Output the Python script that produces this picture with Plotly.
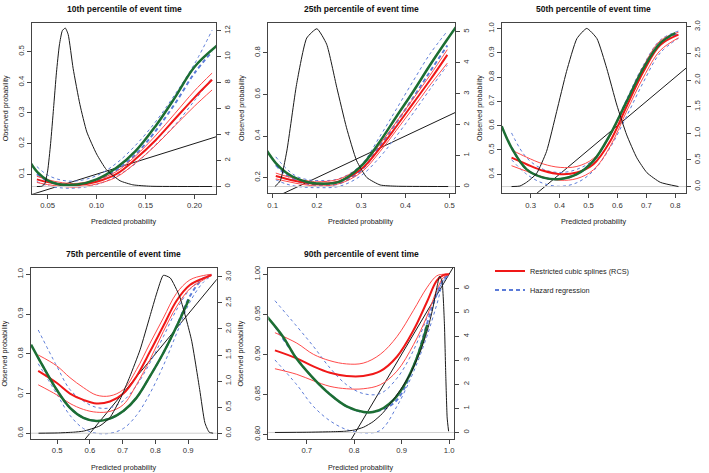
import plotly.graph_objects as go

W, H = 709, 473
FONT = "Liberation Sans, Arial, Helvetica, sans-serif"

# ---------------- data ----------------
TITLES = ["10th percentile of event time", "25th percentile of event time",
          "50th percentile of event time", "75th percentile of event time",
          "90th percentile of event time"]
X_LABEL = "Predicted probability"
Y_LABEL = "Observed probability"
LEGEND_RCS = "Restricted cubic splines (RCS)"
LEGEND_HR = "Hazard regression"

IDENTITY = [0.0, 1.2]          # y = x reference line
BASE_X = [0.0, 1.2]            # density baseline (density = 0)
BASE_Y = [0.0, 0.0]

# 10th percentile
P10_X = [0.039, 0.05, 0.065, 0.08, 0.10, 0.12, 0.14, 0.16, 0.18, 0.20, 0.218]
P10_RCS = [0.083, 0.074, 0.066, 0.064, 0.075, 0.10, 0.15, 0.21, 0.28, 0.35, 0.408]
P10_RCS_HI = [0.093, 0.082, 0.072, 0.070, 0.082, 0.108, 0.16, 0.225, 0.298, 0.372, 0.43]
P10_RCS_LO = [0.073, 0.066, 0.060, 0.058, 0.068, 0.09, 0.137, 0.193, 0.258, 0.322, 0.375]
P10_HR = [0.10, 0.078, 0.066, 0.065, 0.08, 0.113, 0.165, 0.24, 0.33, 0.43, 0.50]
P10_HR_HI = [0.125, 0.097, 0.08, 0.078, 0.095, 0.135, 0.195, 0.27, 0.36, 0.46, 0.57]
P10_HR_LO = [0.076, 0.062, 0.055, 0.055, 0.066, 0.093, 0.135, 0.195, 0.26, 0.34, 0.415]
P10_GREEN_X = [0.030, 0.04, 0.05, 0.06, 0.08, 0.10, 0.12, 0.14, 0.16, 0.18, 0.20, 0.225]
P10_GREEN = [0.15, 0.105, 0.08, 0.068, 0.066, 0.083, 0.12, 0.176, 0.256, 0.35, 0.45, 0.525]
P10_DENS_X = [0.039, 0.044, 0.047, 0.050, 0.053, 0.056, 0.059, 0.062, 0.065, 0.068, 0.071,
              0.076, 0.083, 0.090, 0.100, 0.110, 0.124, 0.137, 0.155, 0.218]
P10_DENS = [0.0, 0.02, 0.2, 1.2, 3.3, 6.0, 8.8, 10.9, 12.0, 12.2, 11.7,
            9.1, 6.3, 4.2, 2.5, 1.3, 0.44, 0.13, 0.02, 0.0]

# 25th percentile
P25_X = [0.107, 0.13, 0.155, 0.18, 0.2, 0.25, 0.3, 0.343, 0.38, 0.418, 0.456, 0.495]
P25_RCS = [0.208, 0.195, 0.183, 0.174, 0.17, 0.182, 0.24, 0.343, 0.447, 0.558, 0.669, 0.79]
P25_RCS_HI = [0.222, 0.207, 0.194, 0.184, 0.18, 0.193, 0.255, 0.362, 0.468, 0.58, 0.692, 0.815]
P25_RCS_LO = [0.194, 0.183, 0.172, 0.164, 0.16, 0.171, 0.225, 0.326, 0.428, 0.535, 0.645, 0.75]
P25_HR = [0.26, 0.215, 0.185, 0.17, 0.165, 0.172, 0.235, 0.355, 0.465, 0.585, 0.71, 0.835]
P25_HR_HI = [0.30, 0.245, 0.205, 0.19, 0.186, 0.195, 0.262, 0.40, 0.53, 0.665, 0.795, 0.904]
P25_HR_LO = [0.19, 0.17, 0.158, 0.153, 0.152, 0.158, 0.21, 0.30, 0.40, 0.51, 0.625, 0.74]
P25_GREEN_X = [0.085, 0.107, 0.13, 0.155, 0.18, 0.2, 0.25, 0.3, 0.343, 0.38, 0.418, 0.456, 0.494, 0.52]
P25_GREEN = [0.335, 0.27, 0.225, 0.195, 0.178, 0.172, 0.18, 0.255, 0.375, 0.494, 0.614, 0.741, 0.861, 0.94]
P25_DENS_X = [0.105, 0.117, 0.132, 0.154, 0.177, 0.2, 0.222, 0.245, 0.267, 0.29, 0.313, 0.343, 0.38, 0.497]
P25_DENS = [0.0, 0.18, 1.15, 3.3, 4.8, 5.1, 4.6, 3.2, 1.9, 0.83, 0.29, 0.05, 0.01, 0.0]

# 50th percentile
P50_X = [0.234, 0.286, 0.344, 0.402, 0.46, 0.517, 0.575, 0.632, 0.69, 0.748, 0.811]
P50_RCS = [0.468, 0.441, 0.414, 0.40, 0.407, 0.441, 0.536, 0.68, 0.823, 0.932, 0.975]
P50_RCS_HI = [0.50, 0.47, 0.442, 0.428, 0.432, 0.465, 0.557, 0.70, 0.845, 0.95, 0.985]
P50_RCS_LO = [0.435, 0.412, 0.388, 0.375, 0.382, 0.418, 0.515, 0.66, 0.80, 0.91, 0.962]
P50_HR = [0.51, 0.42, 0.386, 0.38, 0.40, 0.455, 0.564, 0.70, 0.837, 0.94, 0.98]
P50_HR_HI = [0.57, 0.468, 0.42, 0.407, 0.42, 0.46, 0.56, 0.71, 0.85, 0.953, 0.99]
P50_HR_LO = [0.46, 0.40, 0.362, 0.35, 0.365, 0.414, 0.51, 0.64, 0.78, 0.90, 0.96]
P50_GREEN_X = [0.2, 0.234, 0.286, 0.344, 0.402, 0.46, 0.517, 0.575, 0.632, 0.69, 0.748, 0.80]
P50_GREEN = [0.598, 0.509, 0.42, 0.386, 0.38, 0.40, 0.455, 0.564, 0.70, 0.837, 0.94, 0.982]
P50_DENS_X = [0.234, 0.263, 0.286, 0.32, 0.355, 0.39, 0.424, 0.46, 0.494, 0.529, 0.563,
              0.598, 0.632, 0.667, 0.702, 0.748, 0.811]
P50_DENS = [0.0, 0.01, 0.08, 0.24, 0.66, 1.41, 2.16, 2.78, 2.97, 2.78, 2.22,
            1.53, 0.97, 0.54, 0.26, 0.08, 0.0]

# 75th percentile
P75_X = [0.442, 0.498, 0.539, 0.58, 0.62, 0.661, 0.702, 0.742, 0.783, 0.824, 0.864, 0.905, 0.946, 0.971]
P75_RCS = [0.757, 0.727, 0.70, 0.684, 0.675, 0.68, 0.70, 0.743, 0.805, 0.87, 0.933, 0.973, 0.99, 0.998]
P75_RCS_HI = [0.797, 0.77, 0.74, 0.715, 0.696, 0.694, 0.71, 0.76, 0.826, 0.89, 0.952, 0.986, 0.997, 1.0]
P75_RCS_LO = [0.722, 0.697, 0.675, 0.66, 0.653, 0.655, 0.672, 0.722, 0.785, 0.856, 0.918, 0.964, 0.986, 0.997]
P75_HR = [0.79, 0.71, 0.664, 0.639, 0.631, 0.637, 0.656, 0.689, 0.743, 0.802, 0.868, 0.945, 0.99, 0.999]
P75_HR_HI = [0.86, 0.77, 0.71, 0.681, 0.665, 0.664, 0.682, 0.72, 0.777, 0.843, 0.91, 0.962, 0.99, 0.998]
P75_HR_LO = [0.775, 0.70, 0.645, 0.612, 0.60, 0.60, 0.612, 0.645, 0.70, 0.77, 0.85, 0.93, 0.98, 0.996]
P75_GREEN_X = [0.42, 0.442, 0.498, 0.539, 0.58, 0.62, 0.661, 0.702, 0.742, 0.783, 0.824, 0.864, 0.902]
P75_GREEN = [0.823, 0.79, 0.71, 0.664, 0.639, 0.631, 0.637, 0.656, 0.689, 0.743, 0.802, 0.868, 0.937]
P75_DENS_X = [0.443, 0.50, 0.55, 0.58, 0.63, 0.661, 0.692, 0.722, 0.753, 0.783, 0.804, 0.824,
              0.845, 0.874, 0.91, 0.935, 0.951, 0.964, 0.976]
P75_DENS = [0.0, 0.005, 0.02, 0.04, 0.14, 0.3, 0.65, 1.09, 1.6, 2.24, 2.69, 3.03,
            2.98, 2.62, 1.79, 0.84, 0.2, 0.02, 0.0]

# 90th percentile
P90_X = [0.633, 0.679, 0.714, 0.749, 0.784, 0.819, 0.855, 0.89, 0.925, 0.953, 0.974, 0.988, 1.0]
P90_RCS = [0.905, 0.895, 0.885, 0.877, 0.873, 0.873, 0.879, 0.897, 0.93, 0.965, 0.992, 0.999, 1.0]
P90_RCS_HI = [0.927, 0.914, 0.90, 0.892, 0.888, 0.889, 0.90, 0.922, 0.955, 0.983, 0.998, 1.0, 1.0]
P90_RCS_LO = [0.882, 0.875, 0.867, 0.86, 0.857, 0.857, 0.862, 0.879, 0.912, 0.947, 0.98, 0.996, 1.0]
P90_HR = [0.935, 0.895, 0.87, 0.85, 0.835, 0.828, 0.83, 0.843, 0.885, 0.937, 0.975, 0.993, 1.0]
P90_HR_HI = [0.967, 0.935, 0.91, 0.883, 0.862, 0.851, 0.851, 0.87, 0.905, 0.945, 0.975, 0.993, 1.0]
P90_HR_LO = [0.893, 0.862, 0.835, 0.817, 0.806, 0.802, 0.805, 0.835, 0.878, 0.922, 0.962, 0.99, 1.0]
P90_GREEN_X = [0.615, 0.65, 0.678, 0.714, 0.749, 0.784, 0.82, 0.84, 0.862, 0.883, 0.904, 0.925, 0.943, 0.954]
P90_GREEN = [0.948, 0.922, 0.895, 0.87, 0.85, 0.835, 0.828, 0.828, 0.833, 0.843, 0.86, 0.885, 0.914, 0.937]
P90_DENS_X = [0.633, 0.70, 0.75, 0.78, 0.80, 0.82, 0.84, 0.86, 0.88, 0.90, 0.92, 0.94, 0.955,
              0.965, 0.975, 0.98, 0.985, 0.99, 0.993, 0.996, 0.999]
P90_DENS = [0.0, 0.01, 0.03, 0.05, 0.1, 0.22, 0.45, 0.8, 1.3, 1.85, 2.5, 3.4, 4.3,
            5.1, 6.1, 6.5, 6.3, 4.6, 2.4, 0.6, 0.05]

# axis ticks
X_TICKS = [[0.05, 0.10, 0.15, 0.20], [0.1, 0.2, 0.3, 0.4, 0.5],
           [0.3, 0.4, 0.5, 0.6, 0.7, 0.8], [0.5, 0.6, 0.7, 0.8, 0.9], [0.7, 0.8, 0.9, 1.0]]
YL_TICKS = [[0.1, 0.2, 0.3, 0.4, 0.5], [0.2, 0.4, 0.6, 0.8],
            [0.4, 0.5, 0.6, 0.7, 0.8, 0.9, 1.0], [0.6, 0.7, 0.8, 0.9, 1.0],
            [0.80, 0.85, 0.90, 0.95, 1.00]]
YR_TICKS = [[0, 2, 4, 6, 8, 10, 12], [0, 1, 2, 3, 4, 5],
            [0.0, 0.5, 1.0, 1.5, 2.0, 2.5, 3.0], [0.0, 0.5, 1.0, 1.5, 2.0, 2.5, 3.0],
            [0, 1, 2, 3, 4, 5, 6]]

# ---------------- layout / styling ----------------
# plot boxes in pixels: left, right, top, bottom
BOXES = [(32, 216, 21, 193), (267.7, 455, 20.7, 192.7), (501.7, 686, 20.7, 192.7),
         (31, 216.7, 267.7, 440), (268.3, 454.3, 267.7, 440)]
X_RANGES = [(0.034, 0.222), (0.0887, 0.5124), (0.20, 0.837), (0.42, 0.987), (0.619, 1.011)]
YL_RANGES = [(0.036, 0.594), (0.124, 0.945), (0.3205, 1.025), (0.585, 1.016), (0.794, 1.0078)]
YR_RANGES = [(-0.56, 12.6), (-0.225, 5.3), (-0.13, 3.08), (-0.115, 3.17), (-0.28, 6.84)]
X_FMT = [".2f", ".1f", ".1f", ".1f", ".1f"]
YL_FMT = [".1f", ".1f", ".1f", ".1f", ".2f"]
YR_FMT = ["d", "d", ".1f", ".1f", "d"]
YTITLE_X = [5, 241, 479, 5, 241]

RED = "#f01818"
RED_THIN = "#ff4a4a"
BLUE = "#5b7bd8"
GREEN = "#1c6e33"
BLACK = "#1a1a1a"
AXIS = "#444444"

PANELS = [
    (P10_X, P10_RCS, P10_RCS_HI, P10_RCS_LO, P10_HR, P10_HR_HI, P10_HR_LO, P10_GREEN_X, P10_GREEN, P10_DENS_X, P10_DENS),
    (P25_X, P25_RCS, P25_RCS_HI, P25_RCS_LO, P25_HR, P25_HR_HI, P25_HR_LO, P25_GREEN_X, P25_GREEN, P25_DENS_X, P25_DENS),
    (P50_X, P50_RCS, P50_RCS_HI, P50_RCS_LO, P50_HR, P50_HR_HI, P50_HR_LO, P50_GREEN_X, P50_GREEN, P50_DENS_X, P50_DENS),
    (P75_X, P75_RCS, P75_RCS_HI, P75_RCS_LO, P75_HR, P75_HR_HI, P75_HR_LO, P75_GREEN_X, P75_GREEN, P75_DENS_X, P75_DENS),
    (P90_X, P90_RCS, P90_RCS_HI, P90_RCS_LO, P90_HR, P90_HR_HI, P90_HR_LO, P90_GREEN_X, P90_GREEN, P90_DENS_X, P90_DENS),
]

fig = go.Figure()
layout = dict(
    width=W, height=H, margin=dict(l=0, r=0, t=0, b=0),
    paper_bgcolor="white", plot_bgcolor="white",
    font=dict(family=FONT, color="#222"),
    showlegend=True,
    legend=dict(x=490 / W, y=1 - 256 / H, xanchor="left", yanchor="top",
                font=dict(size=7.3, family=FONT, color="#222"),
                itemwidth=30, bgcolor="rgba(0,0,0,0)", tracegroupgap=0,
                traceorder="normal"),
)
annotations = []

tickfont = dict(size=7.7, color="#333", family=FONT)
common = dict(ticks="outside", ticklen=4, tickcolor=AXIS, showline=True, linecolor=AXIS,
              linewidth=1, showgrid=False, zeroline=False, tickfont=tickfont,
              fixedrange=True, ticklabeloverflow="allow")

for i, data in enumerate(PANELS):
    (xg, rcs, rcs_hi, rcs_lo, hr, hr_hi, hr_lo, gx, gy, dx, dy) = data
    n = i + 1
    xname = "x" if n == 1 else f"x{n}"
    yl = 2 * n - 1
    yr = 2 * n
    ylname = "y" if yl == 1 else f"y{yl}"
    yrname = f"y{yr}"
    l, r, t, b = BOXES[i]

    layout["xaxis" if n == 1 else f"xaxis{n}"] = dict(
        domain=[l / W, r / W], anchor=ylname, range=list(X_RANGES[i]),
        tickvals=X_TICKS[i], tickformat=X_FMT[i], mirror=True, **common)
    layout["yaxis" if yl == 1 else f"yaxis{yl}"] = dict(
        domain=[1 - b / H, 1 - t / H], anchor=xname, range=list(YL_RANGES[i]),
        tickvals=YL_TICKS[i], tickformat=YL_FMT[i], mirror=True, tickangle=-90, **common)
    layout[f"yaxis{yr}"] = dict(
        anchor=xname, overlaying=ylname, side="right", range=list(YR_RANGES[i]),
        tickvals=YR_TICKS[i], tickformat=YR_FMT[i], tickangle=-90, **common)

    # density baseline and density curve (right axis)
    fig.add_trace(go.Scatter(x=BASE_X, y=BASE_Y, mode="lines", xaxis=xname, yaxis=yrname,
                             line=dict(color="#cfcfcf", width=1), showlegend=False, hoverinfo="skip"))
    fig.add_trace(go.Scatter(x=dx, y=dy, mode="lines", xaxis=xname, yaxis=yrname,
                             line=dict(color=BLACK, width=1, shape="spline", smoothing=0.5),
                             showlegend=False, hoverinfo="skip"))
    # identity line
    fig.add_trace(go.Scatter(x=IDENTITY, y=IDENTITY, mode="lines", xaxis=xname, yaxis=ylname,
                             line=dict(color=BLACK, width=1), showlegend=False, hoverinfo="skip"))
    # hazard regression (blue dashed)
    for yy in (hr_hi, hr_lo):
        fig.add_trace(go.Scatter(x=xg, y=yy, mode="lines", xaxis=xname, yaxis=ylname,
                                 line=dict(color=BLUE, width=1, dash="3px,3px", shape="spline", smoothing=1),
                                 showlegend=False, hoverinfo="skip"))
    fig.add_trace(go.Scatter(x=xg, y=hr, mode="lines", xaxis=xname, yaxis=ylname, name=LEGEND_HR,
                             line=dict(color=BLUE, width=2, dash="4px,3px", shape="spline", smoothing=1),
                             showlegend=(n == 1), legendrank=2, hoverinfo="skip"))
    # RCS (red)
    for yy in (rcs_hi, rcs_lo):
        fig.add_trace(go.Scatter(x=xg, y=yy, mode="lines", xaxis=xname, yaxis=ylname,
                                 line=dict(color=RED_THIN, width=1, shape="spline", smoothing=1),
                                 showlegend=False, hoverinfo="skip"))
    fig.add_trace(go.Scatter(x=xg, y=rcs, mode="lines", xaxis=xname, yaxis=ylname, name=LEGEND_RCS,
                             line=dict(color=RED, width=2, shape="spline", smoothing=1),
                             showlegend=(n == 1), legendrank=1, hoverinfo="skip"))
    # green curve
    fig.add_trace(go.Scatter(x=gx, y=gy, mode="lines", xaxis=xname, yaxis=ylname,
                             line=dict(color=GREEN, width=2.5, shape="spline", smoothing=1),
                             showlegend=False, hoverinfo="skip"))

    cx = (l + r) / 2 / W
    cy = 1 - (t + b) / 2 / H
    title_y = 7 if t < 100 else 254
    xlab_y = 220.7 if t < 100 else 468
    annotations.append(dict(text=f"<b>{TITLES[i]}</b>", x=cx, y=1 - title_y / H, xref="paper", yref="paper",
                            showarrow=False, xanchor="center", yanchor="middle",
                            font=dict(size=8.5, family=FONT, color="#111")))
    annotations.append(dict(text=X_LABEL, x=cx, y=1 - xlab_y / H, xref="paper", yref="paper",
                            showarrow=False, xanchor="center", yanchor="middle",
                            font=dict(size=7.2, family=FONT, color="#222")))
    annotations.append(dict(text=Y_LABEL, x=YTITLE_X[i] / W, y=cy, xref="paper", yref="paper",
                            showarrow=False, xanchor="center", yanchor="middle", textangle=-90,
                            font=dict(size=7.2, family=FONT, color="#222")))

layout["annotations"] = annotations
fig.update_layout(**layout)
fig.write_html("out.html", config={"displayModeBar": False, "staticPlot": True},
               post_script="document.body.style.margin='0px';document.body.style.padding='0px';")
